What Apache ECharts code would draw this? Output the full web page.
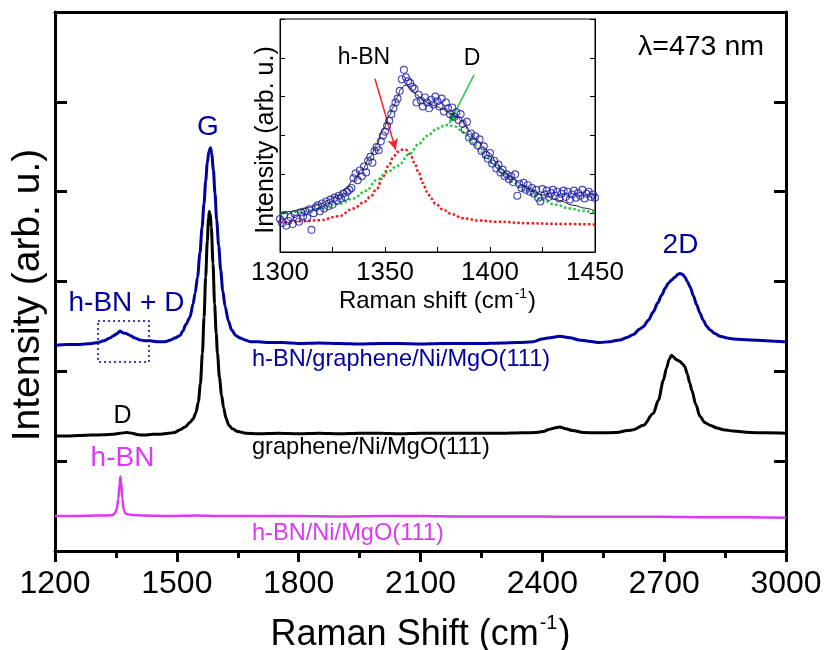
<!DOCTYPE html>
<html>
<head>
<meta charset="utf-8">
<script src="https://cdn.jsdelivr.net/npm/echarts@6/dist/echarts.min.js"></script>
<style>
  html, body { margin: 0; padding: 0; background: #fff; }
  #chart { width: 826px; height: 650px; }
</style>
</head>
<body>
<div id="chart"></div>
<script>
// ---- Raman spectra, excitation 473 nm (stacked with offsets, arb. units) ----
const axisTicks = [1200, 1500, 1800, 2100, 2400, 2700, 3000];

// h-BN/graphene/Ni/MgO(111)
const blueShift = [1200, 1230, 1260, 1290, 1306, 1320, 1335, 1345, 1353, 1360, 1367, 1375, 1385, 1397, 1409, 1422, 1434, 1450, 1471, 1485,
  1495, 1508, 1515, 1522, 1532, 1540, 1545, 1551, 1557, 1562, 1567, 1571, 1575, 1579, 1583, 1586, 1590, 1594, 1598, 1603,
  1608, 1613, 1619, 1627, 1635, 1645, 1656, 1668, 1680, 1700, 1729, 1760, 1800, 1850, 1900, 1950, 2000, 2050, 2100, 2150,
  2200, 2250, 2300, 2340, 2377, 2400, 2419, 2443, 2468, 2490, 2515, 2542, 2565, 2591, 2610, 2624, 2640, 2649, 2661, 2673,
  2684, 2694, 2703, 2710, 2719, 2727, 2734, 2739, 2745, 2751, 2757, 2764, 2772, 2780, 2788, 2796, 2805, 2813, 2825, 2838,
  2855, 2870, 2911, 2950, 2993, 3000];
const blueIntensity = [2.29, 2.30, 2.30, 2.31, 2.32, 2.34, 2.37, 2.40, 2.42, 2.45, 2.43, 2.42, 2.40, 2.37, 2.35, 2.34, 2.34, 2.33, 2.33, 2.35,
  2.37, 2.40, 2.45, 2.52, 2.60, 2.75, 2.87, 3.05, 3.32, 3.60, 3.87, 4.12, 4.32, 4.45, 4.49, 4.42, 4.24, 3.98, 3.69, 3.40,
  3.13, 2.90, 2.72, 2.56, 2.46, 2.40, 2.37, 2.35, 2.33, 2.33, 2.32, 2.32, 2.31, 2.315, 2.31, 2.305, 2.31, 2.31, 2.305, 2.31,
  2.31, 2.31, 2.315, 2.32, 2.33, 2.36, 2.375, 2.39, 2.375, 2.35, 2.335, 2.32, 2.33, 2.35, 2.38, 2.41, 2.47, 2.50, 2.57, 2.66,
  2.76, 2.85, 2.93, 2.98, 3.02, 3.05, 3.08, 3.09, 3.08, 3.05, 3.00, 2.94, 2.84, 2.74, 2.65, 2.57, 2.50, 2.46, 2.42, 2.39,
  2.37, 2.36, 2.35, 2.34, 2.33, 2.33];

// graphene/Ni/MgO(111)
const blackShift = [1200, 1230, 1260, 1290, 1320, 1345, 1360, 1377, 1390, 1405, 1420, 1440, 1460, 1480, 1495, 1508, 1520, 1532, 1540, 1547,
  1553, 1558, 1563, 1567, 1571, 1575, 1578, 1580, 1582, 1585, 1589, 1593, 1597, 1600, 1605, 1610, 1615, 1621, 1628, 1637,
  1650, 1670, 1700, 1750, 1800, 1850, 1900, 1950, 2000, 2050, 2100, 2150, 2200, 2250, 2300, 2350, 2385, 2402, 2418, 2430,
  2443, 2458, 2475, 2501, 2540, 2583, 2610, 2624, 2649, 2673, 2686, 2698, 2706, 2712, 2718, 2723, 2730, 2739, 2746, 2751,
  2757, 2763, 2768, 2778, 2788, 2800, 2813, 2830, 2846, 2870, 2911, 2950, 3000];
const blackIntensity = [1.28, 1.28, 1.285, 1.29, 1.295, 1.30, 1.31, 1.32, 1.31, 1.295, 1.29, 1.30, 1.30, 1.31, 1.32, 1.35, 1.38, 1.43, 1.47, 1.54,
  1.66, 1.86, 2.20, 2.60, 3.05, 3.45, 3.70, 3.78, 3.76, 3.60, 3.20, 2.75, 2.42, 2.20, 1.93, 1.74, 1.60, 1.48, 1.40, 1.36,
  1.33, 1.31, 1.305, 1.31, 1.305, 1.31, 1.305, 1.31, 1.31, 1.305, 1.31, 1.31, 1.31, 1.31, 1.31, 1.315, 1.32, 1.33, 1.355, 1.37,
  1.38, 1.36, 1.34, 1.32, 1.315, 1.32, 1.34, 1.35, 1.40, 1.53, 1.68, 1.90, 2.04, 2.13, 2.18, 2.16, 2.13, 2.11, 2.08, 2.05,
  1.97, 1.87, 1.79, 1.63, 1.50, 1.43, 1.40, 1.37, 1.35, 1.335, 1.32, 1.315, 1.31];

// h-BN/Ni/MgO(111)
const pinkShift = [1200, 1250, 1300, 1330, 1342, 1348, 1352, 1356, 1359, 1361, 1363, 1366, 1369, 1373, 1378, 1390, 1420, 1480, 1550, 1600,
  1700, 1800, 1900, 2000, 2100, 2200, 2300, 2400, 2500, 2600, 2700, 2800, 2900, 3000];
const pinkIntensity = [0.39, 0.39, 0.395, 0.395, 0.40, 0.42, 0.47, 0.58, 0.75, 0.83, 0.76, 0.58, 0.47, 0.42, 0.41, 0.40, 0.395, 0.39, 0.395, 0.39,
  0.39, 0.39, 0.385, 0.39, 0.39, 0.385, 0.385, 0.385, 0.38, 0.38, 0.38, 0.375, 0.375, 0.37];

// ---- inset: h-BN + D region of h-BN/graphene/Ni/MgO(111) ----
const insetShift = [1300, 1301, 1302, 1303, 1304, 1305, 1306, 1307, 1308, 1309, 1310, 1311, 1312, 1313, 1314, 1315, 1316, 1317, 1318, 1319,
  1320, 1321, 1322, 1323, 1324, 1325, 1326, 1327, 1328, 1329, 1330, 1331, 1332, 1333, 1334, 1335, 1336, 1337, 1338, 1339,
  1340, 1341, 1342, 1343, 1344, 1345, 1346, 1347, 1348, 1349, 1350, 1351, 1352, 1353, 1354, 1355, 1356, 1357, 1358, 1359,
  1360, 1361, 1362, 1363, 1364, 1365, 1366, 1367, 1368, 1369, 1370, 1371, 1372, 1373, 1374, 1375, 1376, 1377, 1378, 1379,
  1380, 1381, 1382, 1383, 1384, 1385, 1386, 1387, 1388, 1389, 1390, 1391, 1392, 1393, 1394, 1395, 1396, 1397, 1398, 1399,
  1400, 1401, 1402, 1403, 1404, 1405, 1406, 1407, 1408, 1409, 1410, 1411, 1412, 1413, 1414, 1415, 1416, 1417, 1418, 1419,
  1420, 1421, 1422, 1423, 1424, 1425, 1426, 1427, 1428, 1429, 1430, 1431, 1432, 1433, 1434, 1435, 1436, 1437, 1438, 1439,
  1440, 1441, 1442, 1443, 1444, 1445, 1446, 1447, 1448, 1449, 1450];
const insetMeasured = [0.85, 0.75, 0.95, 0.68, 0.80, 0.90, 0.72, 0.98, 0.86, 0.78, 1.02, 0.92, 1.05, 0.88, 1.10, 0.57, 1.00, 1.15, 1.20, 1.05,
  1.25, 1.12, 1.30, 1.18, 1.35, 1.22, 1.40, 1.32, 1.45, 1.38, 1.50, 1.42, 1.55, 1.60, 1.65, 1.90, 2.02, 1.85, 2.10, 1.95,
  2.20, 2.05, 2.35, 2.45, 2.30, 2.60, 2.70, 2.62, 2.85, 3.00, 3.10, 3.25, 3.38, 3.55, 3.70, 3.85, 3.95, 4.15, 4.45, 4.69,
  4.50, 4.40, 4.35, 4.25, 4.20, 3.85, 4.05, 3.90, 3.75, 3.98, 3.85, 3.70, 3.92, 3.80, 4.00, 3.88, 3.75, 3.95, 3.62, 3.85,
  3.70, 3.55, 3.72, 3.48, 3.60, 3.40, 3.55, 3.30, 3.15, 3.35, 2.95, 3.05, 2.85, 2.98, 2.75, 2.90, 2.60, 2.72, 2.50, 2.40,
  2.55, 2.28, 2.35, 2.15, 2.25, 2.05, 2.12, 1.95, 2.00, 1.88, 1.95, 1.80, 2.00, 1.45, 1.75, 1.65, 1.78, 1.60, 1.72, 1.55,
  1.65, 1.50, 1.60, 1.40, 1.30, 1.62, 1.48, 1.58, 1.42, 1.52, 1.60, 1.45, 1.55, 1.38, 1.50, 1.58, 1.42, 1.55, 1.35, 1.48,
  1.58, 1.40, 1.52, 1.45, 1.60, 1.38, 1.50, 1.55, 1.42, 1.48, 1.40];

// fitted envelope and its two Lorentzian components
const fitShift = [1300, 1305, 1310, 1315, 1319, 1323, 1327, 1331, 1335, 1339, 1343, 1346, 1349, 1352, 1354, 1356, 1357.5, 1359.5, 1362, 1365,
  1368, 1371, 1374, 1378, 1381, 1384, 1387, 1390, 1394, 1397, 1400, 1403, 1406, 1410, 1413, 1416, 1419, 1425, 1432, 1440,
  1445, 1450];
const fitSum = [1.00, 1.04, 1.10, 1.16, 1.23, 1.33, 1.45, 1.62, 1.85, 2.12, 2.45, 2.76, 3.14, 3.50, 3.74, 4.00, 4.20, 4.30, 4.22, 4.05,
  3.91, 3.82, 3.76, 3.67, 3.57, 3.48, 3.36, 3.12, 2.88, 2.70, 2.54, 2.32, 2.11, 1.93, 1.81, 1.70, 1.60, 1.47, 1.34, 1.20,
  1.13, 1.06];
const hbnShift = [1300, 1310, 1319, 1328, 1335, 1340, 1343, 1346, 1349, 1352, 1354, 1356, 1358, 1360, 1362, 1364, 1366, 1368, 1370, 1372,
  1374, 1378, 1382, 1387, 1395, 1403, 1419, 1435, 1450];
const hbnPeak = [0.76, 0.79, 0.82, 0.92, 1.12, 1.28, 1.42, 1.62, 1.94, 2.25, 2.45, 2.58, 2.63, 2.63, 2.52, 2.30, 2.05, 1.78, 1.55, 1.38,
  1.24, 1.08, 0.97, 0.87, 0.81, 0.78, 0.74, 0.72, 0.71];
const dShift = [1300, 1310, 1319, 1328, 1335, 1341, 1346, 1351, 1356, 1362, 1366, 1370, 1375, 1379, 1383, 1386, 1389, 1392, 1395, 1398,
  1402, 1406, 1411, 1416, 1421, 1425, 1431, 1438, 1444, 1450];
const dPeak = [0.98, 1.04, 1.12, 1.24, 1.38, 1.58, 1.85, 2.05, 2.22, 2.54, 2.78, 2.99, 3.18, 3.27, 3.24, 3.14, 3.00, 2.80, 2.62, 2.45,
  2.24, 2.03, 1.80, 1.60, 1.46, 1.34, 1.22, 1.12, 1.06, 1.01];

// arrows pointing at the two components: [from, to] in inset coordinates
const hbnArrow = [[1345.2, 4.46], [1355.1, 2.63]];
const dArrow = [[1392.4, 4.56], [1380.6, 3.31]];

const pairs = (xs, ys) => xs.map((x, i) => [x, ys[i]]);
const plainNumber = (v) => String(v);

const FONT = '"Liberation Sans", Arial, Helvetica, sans-serif';
const BLUE = '#0000a0';
const PINK = '#d83cf0';

const chart = echarts.init(document.getElementById('chart'), null, { renderer: 'canvas' });

const label = (x, y, text, size, fill, align, extra) => Object.assign({
  type: 'text', x, y, z: 20,
  style: { text, fill, font: size + 'px ' + FONT, textAlign: align || 'center', textVerticalAlign: 'middle' }
}, extra || {});

const option = {
  backgroundColor: '#fff',
  animation: false,
  textStyle: { fontFamily: FONT },
  grid: [
    { left: 55, right: 40, top: 12, bottom: 99, outerBoundsMode: 'none', containLabel: false },
    { left: 280, top: 19, width: 315, height: 233, show: true, backgroundColor: '#fff',
      borderColor: '#000', borderWidth: 1, z: 5, outerBoundsMode: 'none', containLabel: false }
  ],
  xAxis: [
    {
      gridIndex: 0, type: 'value', min: axisTicks[0], max: axisTicks[axisTicks.length - 1], interval: 300,
      name: '{a|Raman Shift (cm}{s|-1}{a|)}', nameLocation: 'middle', nameGap: 62,
      nameTextStyle: {
        rich: {
          a: { fontSize: 36, fontFamily: FONT, color: '#000', lineHeight: 40, verticalAlign: 'bottom' },
          s: { fontSize: 20, fontFamily: FONT, color: '#000', lineHeight: 40, verticalAlign: 'top', padding: [0, 1, 0, 1] }
        }
      },
      axisLine: { lineStyle: { color: '#000', width: 3 } },
      axisTick: { inside: false, length: 11, lineStyle: { width: 3, color: '#000' } },
      minorTick: { show: true, splitNumber: 2, length: 7, lineStyle: { width: 3, color: '#000' } },
      axisLabel: { fontSize: 32, color: '#000', margin: 17, fontFamily: FONT, formatter: plainNumber },
      splitLine: { show: false }
    },
    {
      gridIndex: 0, type: 'value', position: 'top', min: 1200, max: 3000,
      axisLine: { onZero: false, lineStyle: { color: '#000', width: 3 } },
      axisTick: { show: false }, axisLabel: { show: false }, splitLine: { show: false }
    },
    {
      gridIndex: 1, type: 'value', min: 1300, max: 1450, interval: 50,
      name: '{a|Raman shift (cm}{s|-1}{a|)}', nameLocation: 'middle', nameGap: 35,
      nameTextStyle: {
        rich: {
          a: { fontSize: 24, fontFamily: FONT, color: '#000', lineHeight: 26, verticalAlign: 'bottom' },
          s: { fontSize: 14, fontFamily: FONT, color: '#000', lineHeight: 26, verticalAlign: 'top', padding: [0, 1, 0, 1] }
        }
      },
      axisLine: { lineStyle: { color: '#000', width: 1 } },
      axisTick: { inside: true, length: 5, lineStyle: { width: 1, color: '#000' } },
      minorTick: { show: true, splitNumber: 2, length: 5, lineStyle: { width: 1, color: '#000' } },
      axisLabel: { fontSize: 26, color: '#000', margin: 8, fontFamily: FONT, formatter: plainNumber },
      splitLine: { show: false }, z: 6
    }
  ],
  yAxis: [
    {
      gridIndex: 0, type: 'value', min: 0, max: 6, interval: 1,
      axisLine: { lineStyle: { color: '#000', width: 3 } },
      axisTick: { inside: true, length: 12, lineStyle: { width: 3, color: '#000' } },
      axisLabel: { show: false }, splitLine: { show: false }
    },
    {
      gridIndex: 0, type: 'value', position: 'right', min: 0, max: 6, interval: 1,
      axisLine: { onZero: false, lineStyle: { color: '#000', width: 3 } },
      axisTick: { inside: true, length: 12, lineStyle: { width: 3, color: '#000' } },
      axisLabel: { show: false }, splitLine: { show: false }
    },
    {
      gridIndex: 1, type: 'value', min: 0, max: 6, interval: 1,
      axisLine: { lineStyle: { color: '#000', width: 1 } },
      axisTick: { inside: true, length: 5, lineStyle: { width: 1, color: '#000' } },
      axisLabel: { show: false }, splitLine: { show: false }, z: 6
    },
    {
      gridIndex: 1, type: 'value', position: 'right', min: 0, max: 6, interval: 1,
      axisLine: { onZero: false, lineStyle: { color: '#000', width: 1 } },
      axisTick: { inside: true, length: 5, lineStyle: { width: 1, color: '#000' } },
      axisLabel: { show: false }, splitLine: { show: false }, z: 6
    }
  ],
  series: [
    {
      name: 'h-BN/graphene/Ni/MgO(111)', type: 'line', xAxisIndex: 0, yAxisIndex: 0,
      data: pairs(blueShift, blueIntensity), showSymbol: false, smooth: 0.3, smoothMonotone: 'x',
      lineStyle: { color: BLUE, width: 3 }, z: 3
    },
    {
      name: 'graphene/Ni/MgO(111)', type: 'line', xAxisIndex: 0, yAxisIndex: 0,
      data: pairs(blackShift, blackIntensity), showSymbol: false, smooth: 0.3, smoothMonotone: 'x',
      lineStyle: { color: '#000', width: 3 }, z: 3
    },
    {
      name: 'h-BN/Ni/MgO(111)', type: 'line', xAxisIndex: 0, yAxisIndex: 0,
      data: pairs(pinkShift, pinkIntensity), showSymbol: false, smooth: 0.3, smoothMonotone: 'x',
      lineStyle: { color: PINK, width: 2.5 }, z: 3
    },
    {
      name: 'h-BN component', type: 'line', xAxisIndex: 2, yAxisIndex: 2,
      data: pairs(hbnShift, hbnPeak), showSymbol: false, smooth: 0.4, smoothMonotone: 'x',
      lineStyle: { color: '#ee1c1c', width: 2.5, type: [2.5, 2.2] }, z: 7,
      markLine: {
        silent: true, symbol: ['none', 'arrow'], symbolSize: [8, 11],
        lineStyle: { type: 'solid', color: '#ff2020', width: 1.5 }, label: { show: false },
        data: [[{ coord: hbnArrow[0] }, { coord: hbnArrow[1] }]]
      }
    },
    {
      name: 'D component', type: 'line', xAxisIndex: 2, yAxisIndex: 2,
      data: pairs(dShift, dPeak), showSymbol: false, smooth: 0.4, smoothMonotone: 'x',
      lineStyle: { color: '#27c93f', width: 2.5, type: [2.5, 2.2] }, z: 7,
      markLine: {
        silent: true, symbol: ['none', 'arrow'], symbolSize: [8, 11],
        lineStyle: { type: 'solid', color: '#22cc44', width: 1.5 }, label: { show: false },
        data: [[{ coord: dArrow[0] }, { coord: dArrow[1] }]]
      }
    },
    {
      name: 'measured', type: 'scatter', xAxisIndex: 2, yAxisIndex: 2,
      data: pairs(insetShift, insetMeasured), symbol: 'circle', symbolSize: 7,
      itemStyle: { color: 'rgba(255,255,255,0)', borderColor: '#1c1ca6', borderWidth: 1.1 }, z: 8
    },
    {
      name: 'fit', type: 'line', xAxisIndex: 2, yAxisIndex: 2,
      data: pairs(fitShift, fitSum), showSymbol: false, smooth: 0.4, smoothMonotone: 'x',
      lineStyle: { color: '#222', width: 1 }, z: 9
    }
  ],
  graphic: [
    // axis titles drawn as rotated text
    label(28.5, 295, 'Intensity (arb. u.)', 39, '#000', 'center', { rotation: Math.PI / 2 }),
    label(266, 140, 'Intensity (arb. u.)', 25, '#000', 'center', { rotation: Math.PI / 2 }),
    // peak and sample labels
    label(208, 127, 'G', 28, BLUE),
    label(680.5, 245, '2D', 28, BLUE),
    label(126.5, 303, 'h-BN + D', 28, BLUE),
    { type: 'rect', z: 20, shape: { x: 98, y: 321, width: 51, height: 41 }, style: { fill: 'none', stroke: BLUE, lineWidth: 1.5, lineDash: [2, 3] } },
    label(252, 359, 'h-BN/graphene/Ni/MgO(111)', 23.6, BLUE, 'left'),
    label(122.5, 416, 'D', 25, '#000'),
    label(252, 447, 'graphene/Ni/MgO(111)', 23.6, '#000', 'left'),
    label(122.5, 458, 'h-BN', 28, PINK),
    label(252, 533, 'h-BN/Ni/MgO(111)', 23.6, PINK, 'left'),
    label(701, 47, 'λ=473 nm', 28.5, '#000'),
    label(364, 58, 'h-BN', 23, '#000'),
    label(472, 59, 'D', 23, '#000')
  ]
};

chart.setOption(option);
</script>
</body>
</html>
